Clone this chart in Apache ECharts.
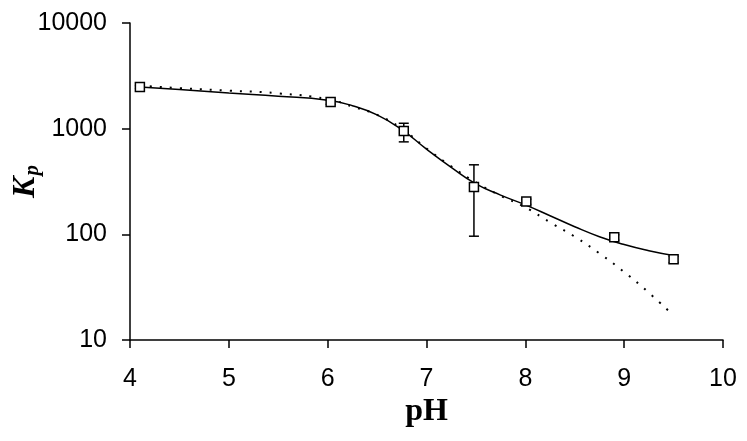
<!DOCTYPE html>
<html>
<head>
<meta charset="utf-8">
<script src="https://cdn.jsdelivr.net/npm/echarts@6/dist/echarts.min.js"></script>
<style>
  html, body { margin: 0; padding: 0; background: #fff; }
  #main { width: 747px; height: 441px; }
</style>
</head>
<body>
<div id="main"></div>
<script>
// measured points (pH, Kp) with error bar ends
var pH = [4.1, 6.03, 6.77, 7.48, 8.01, 8.9, 9.5];
var kp = [2480, 1790, 950, 280, 205, 94, 58];
var kpLow = [2400, 1700, 750, 96, 192, 88, 54];
var kpHigh = [2560, 1860, 1125, 455, 215, 99, 62];

// fitted curves
var fitX = [4.1, 4.5, 5.0, 5.5, 6.0, 6.25, 6.5, 6.75, 7.0, 7.25, 7.5, 7.75, 8.0, 8.25, 8.5, 8.75, 9.0, 9.25, 9.5];
var fitSolid = [2480, 2350, 2170, 2030, 1860, 1650, 1350, 980, 640, 430, 300, 235, 190, 150, 118, 95, 80, 70, 63];
var fitDotted = [2550, 2420, 2290, 2160, 1900, 1620, 1350, 1000, 650, 440, 310, 232, 180, 130, 95, 66, 44, 28, 17];

var yTicks = [10, 100, 1000, 10000];

function zip(a, b) {
  var out = [];
  for (var i = 0; i < a.length; i++) out.push([a[i], b[i]]);
  return out;
}

var errData = [];
for (var i = 0; i < pH.length; i++) errData.push([pH[i], kpLow[i], kpHigh[i]]);

var myChart = echarts.init(document.getElementById('main'));
myChart.setOption({
  backgroundColor: '#fff',
  animation: false,
  grid: {left: 130, right: 24, top: 23, bottom: 101, outerBoundsMode: 'none'},
  xAxis: {
    type: 'value',
    min: 4, max: 10, interval: 1,
    name: 'pH',
    nameLocation: 'middle',
    nameGap: 56,
    nameMoveOverlap: false,
    nameTextStyle: {fontFamily: 'Liberation Serif', fontWeight: 'bold', fontSize: 32, color: '#000'},
    axisLine: {lineStyle: {color: '#000', width: 1.5}},
    axisTick: {show: true, length: 8, lineStyle: {color: '#000', width: 1.5}},
    axisLabel: {fontFamily: 'Liberation Sans', fontSize: 25, color: '#000', margin: 27},
    splitLine: {show: false}
  },
  yAxis: {
    type: 'log',
    logBase: 10,
    min: yTicks[0], max: yTicks[yTicks.length - 1],
    name: '{k|K}{p|p}',
    nameLocation: 'middle',
    nameRotate: 90,
    nameGap: 87,
    nameMoveOverlap: false,
    nameTextStyle: {
      rich: {
        k: {fontFamily: 'Liberation Serif', fontWeight: 'bold', fontStyle: 'italic', fontSize: 32, color: '#000'},
        p: {fontFamily: 'Liberation Serif', fontWeight: 'bold', fontStyle: 'italic', fontSize: 21, color: '#000', padding: [14, 0, 0, 1]}
      }
    },
    axisLine: {show: true, lineStyle: {color: '#000', width: 1.5}},
    axisTick: {show: true, length: 8, lineStyle: {color: '#000', width: 1.5}},
    axisLabel: {
      fontFamily: 'Liberation Sans', fontSize: 25, color: '#000', margin: 23,
      formatter: function (v) { return String(v); }
    },
    minorTick: {show: false},
    splitLine: {show: false}
  },
  series: [
    {
      name: 'fit',
      type: 'line',
      data: zip(fitX, fitSolid),
      smooth: true,
      showSymbol: false,
      lineStyle: {color: '#000', width: 1.5},
      z: 2
    },
    {
      name: 'fit2',
      type: 'line',
      data: zip(fitX, fitDotted),
      smooth: true,
      showSymbol: false,
      lineStyle: {color: '#000', width: 2, type: [2, 8]},
      z: 2
    },
    {
      name: 'err',
      type: 'custom',
      data: errData,
      z: 3,
      renderItem: function (params, api) {
        var lo = api.coord([api.value(0), api.value(1)]);
        var hi = api.coord([api.value(0), api.value(2)]);
        var w = 5;
        var st = {stroke: '#000', lineWidth: 1.5};
        return {
          type: 'group',
          children: [
            {type: 'line', shape: {x1: lo[0], y1: lo[1], x2: hi[0], y2: hi[1]}, style: st},
            {type: 'line', shape: {x1: lo[0] - w, y1: lo[1], x2: lo[0] + w, y2: lo[1]}, style: st},
            {type: 'line', shape: {x1: hi[0] - w, y1: hi[1], x2: hi[0] + w, y2: hi[1]}, style: st}
          ]
        };
      }
    },
    {
      name: 'Kp',
      type: 'scatter',
      data: zip(pH, kp),
      symbol: 'rect',
      symbolSize: 9,
      itemStyle: {color: '#fff', borderColor: '#000', borderWidth: 1.5, opacity: 1},
      z: 4
    }
  ]
});
</script>
</body>
</html>
